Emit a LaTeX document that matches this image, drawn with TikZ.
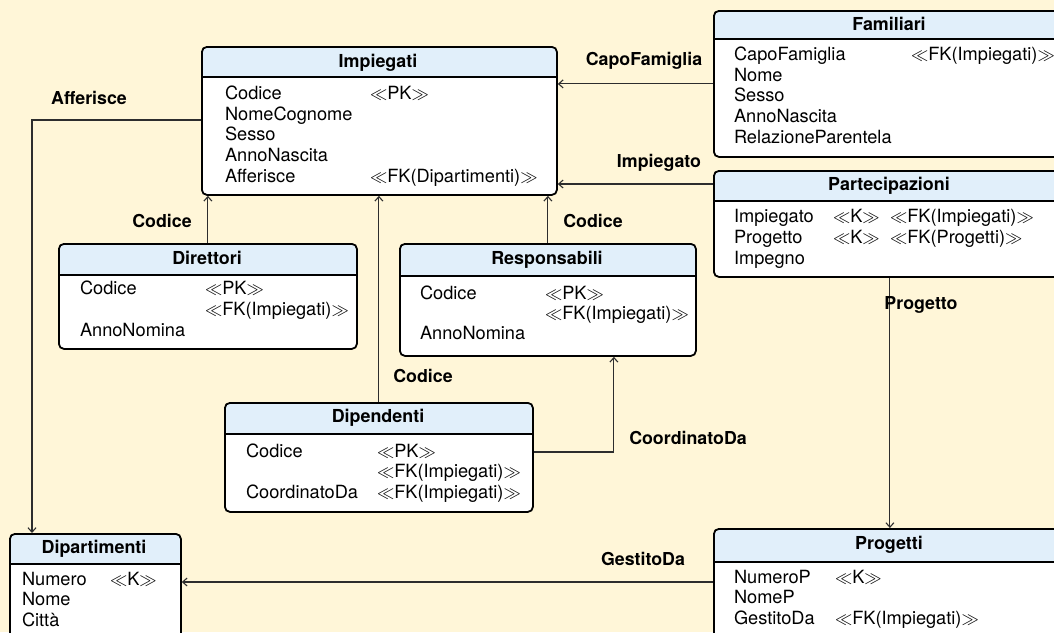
\documentclass[tikz,border=0pt]{standalone}
\usepackage{fontspec}
\setmainfont{TeX Gyre Heros}
\usetikzlibrary{arrows.meta}
\definecolor{paper}{RGB}{255,246,216}
\definecolor{headfill}{RGB}{225,239,250}
\definecolor{wire}{RGB}{45,45,45}
\newcommand{\stereo}[1]{$\ll$#1$\gg$}

\begin{document}
\begin{tikzpicture}[x=1pt,y=-1pt,
  every node/.style={inner sep=0pt, outer sep=0pt, font=\fontsize{18.2}{21}\selectfont},
  tbl/.style={draw=black, line width=1.8pt, rounded corners=5pt, fill=white,
    anchor=north west, outer sep=0.9pt,
    path picture={
      \fill[headfill] (path picture bounding box.north west)
        rectangle ([yshift=-#1]path picture bounding box.north east);
      \draw[line width=1.8pt] ([yshift=-#1]path picture bounding box.north west)
        -- ([yshift=-#1]path picture bounding box.north east);}},
  title/.style={anchor=base, font=\fontsize{17.9}{21}\selectfont\bfseries},
  attr/.style={anchor=base west},
  rel/.style={anchor=base, font=\fontsize{17.8}{21}\selectfont\bfseries},
  conn/.style={draw=wire, line width=1.1pt, -{Straight Barb[length=4.5pt,width=8pt]}}]

\useasboundingbox (0,0) rectangle (1054,632);
\fill[paper] (0,0) rectangle (1054,632);

% ---------- Impiegati ----------
\node[tbl=30pt, minimum width=355pt, minimum height=148pt] (imp) at (201,46) {};
\node[title] (imp-t) at (378,67) {Impiegati};
\node[attr] (imp-a1) at (225,99) {Codice};
\node[attr] (imp-k1) at (370,99) {\stereo{PK}};
\node[attr] (imp-a2) at (225,120) {NomeCognome};
\node[attr] (imp-a3) at (225,140) {Sesso};
\node[attr] (imp-a4) at (225,161) {AnnoNascita};
\node[attr] (imp-a5) at (225,182) {Afferisce};
\node[attr] (imp-k5) at (370,182) {\stereo{FK(Dipartimenti)}};

% ---------- Familiari ----------
\node[tbl=28pt, minimum width=352pt, minimum height=146pt] (fam) at (713,10) {};
\node[title] (fam-t) at (889,30) {Familiari};
\node[attr] (fam-a1) at (734,60) {CapoFamiglia};
\node[attr] (fam-k1) at (911,60) {\stereo{FK(Impiegati)}};
\node[attr] (fam-a2) at (734,81) {Nome};
\node[attr] (fam-a3) at (734,101) {Sesso};
\node[attr] (fam-a4) at (734,122) {AnnoNascita};
\node[attr] (fam-a5) at (734,143) {RelazioneParentela};

% ---------- Partecipazioni ----------
\node[tbl=30pt, minimum width=352pt, minimum height=106pt] (part) at (713,170) {};
\node[title] (part-t) at (889,190) {Partecipazioni};
\node[attr] (part-a1) at (734,222) {Impiegato};
\node[attr] (part-k1) at (833,222) {\stereo{K}};
\node[attr] (part-f1) at (890,222) {\stereo{FK(Impiegati)}};
\node[attr] (part-a2) at (734,243) {Progetto};
\node[attr] (part-k2) at (833,243) {\stereo{K}};
\node[attr] (part-f2) at (890,243) {\stereo{FK(Progetti)}};
\node[attr] (part-a3) at (734,264) {Impegno};

% ---------- Direttori ----------
\node[tbl=31pt, minimum width=298pt, minimum height=105pt] (dir) at (58,243) {};
\node[title] (dir-t) at (207,264) {Direttori};
\node[attr] (dir-a1) at (80,294) {Codice};
\node[attr] (dir-k1) at (205,294) {\stereo{PK}};
\node[attr] (dir-f1) at (205,315) {\stereo{FK(Impiegati)}};
\node[attr] (dir-a2) at (80,336) {AnnoNomina};

% ---------- Responsabili ----------
\node[tbl=32pt, minimum width=296pt, minimum height=112pt] (resp) at (399,243) {};
\node[title] (resp-t) at (547,264) {Responsabili};
\node[attr] (resp-a1) at (420,299) {Codice};
\node[attr] (resp-k1) at (545,299) {\stereo{PK}};
\node[attr] (resp-f1) at (545,319) {\stereo{FK(Impiegati)}};
\node[attr] (resp-a2) at (420,339) {AnnoNomina};

% ---------- Dipendenti ----------
\node[tbl=31pt, minimum width=308pt, minimum height=109pt] (dip) at (224,402) {};
\node[title] (dip-t) at (378,422) {Dipendenti};
\node[attr] (dip-a1) at (246,457) {Codice};
\node[attr] (dip-k1) at (377,457) {\stereo{PK}};
\node[attr] (dip-f1) at (377,477) {\stereo{FK(Impiegati)}};
\node[attr] (dip-a2) at (246,498) {CoordinatoDa};
\node[attr] (dip-f2) at (377,498) {\stereo{FK(Impiegati)}};

% ---------- Dipartimenti ----------
\node[tbl=30pt, minimum width=171pt, minimum height=130pt] (dpt) at (9,533) {};
\node[title] (dpt-t) at (94,553) {Dipartimenti};
\node[attr] (dpt-a1) at (22,585) {Numero};
\node[attr] (dpt-k1) at (110,585) {\stereo{K}};
\node[attr] (dpt-a2) at (22,605) {Nome};
\node[attr] (dpt-a3) at (22,626) {Città};

% ---------- Progetti ----------
\node[tbl=33pt, minimum width=352pt, minimum height=130pt] (prog) at (713,528) {};
\node[title] (prog-t) at (889,549) {Progetti};
\node[attr] (prog-a1) at (734,583) {NumeroP};
\node[attr] (prog-k1) at (835,583) {\stereo{K}};
\node[attr] (prog-a2) at (734,603) {NomeP};
\node[attr] (prog-a3) at (734,624) {GestitoDa};
\node[attr] (prog-f3) at (835,624) {\stereo{FK(Impiegati)}};

% ---------- references ----------
\draw[conn] (fam.west) -- (fam.west -| imp.east);
\coordinate (partout) at ([yshift=-14pt]part.north west);
\draw[conn] (partout) -- (partout -| imp.east);
\draw[conn] (dir.north) -- (dir.north |- imp.south);
\draw[conn] (resp.north) -- (resp.north |- imp.south);
\draw[conn] (dip.north) -- (dip.north |- imp.south);
\coordinate (cdout) at ([yshift=-50pt]dip.north east);
\coordinate (cdin) at ([xshift=66pt]resp.south);
\draw[conn] (cdout) -| (cdin);
\coordinate (affout) at ([yshift=-74pt]imp.north west);
\coordinate (affin) at ([xshift=23pt]dpt.north west);
\draw[conn] (affout) -| (affin);
\draw[conn] (part.south) -- (prog.north);
\coordinate (gestout) at ([yshift=-54pt]prog.north west);
\draw[conn] (gestout) -- (gestout -| dpt.east);

% ---------- reference labels ----------
\node[rel] (l-capo) at (644,65) {CapoFamiglia};
\node[rel] (l-imp) at (659,167) {Impiegato};
\node[rel] (l-cod1) at (162,227) {Codice};
\node[rel] (l-cod2) at (593,227) {Codice};
\node[rel] (l-cod3) at (423,382) {Codice};
\node[rel] (l-coord) at (688,444) {CoordinatoDa};
\node[rel] (l-aff) at (89,104) {Afferisce};
\node[rel] (l-prog) at (921,309) {Progetto};
\node[rel] (l-gest) at (643,565) {GestitoDa};
\end{tikzpicture}
\end{document}
